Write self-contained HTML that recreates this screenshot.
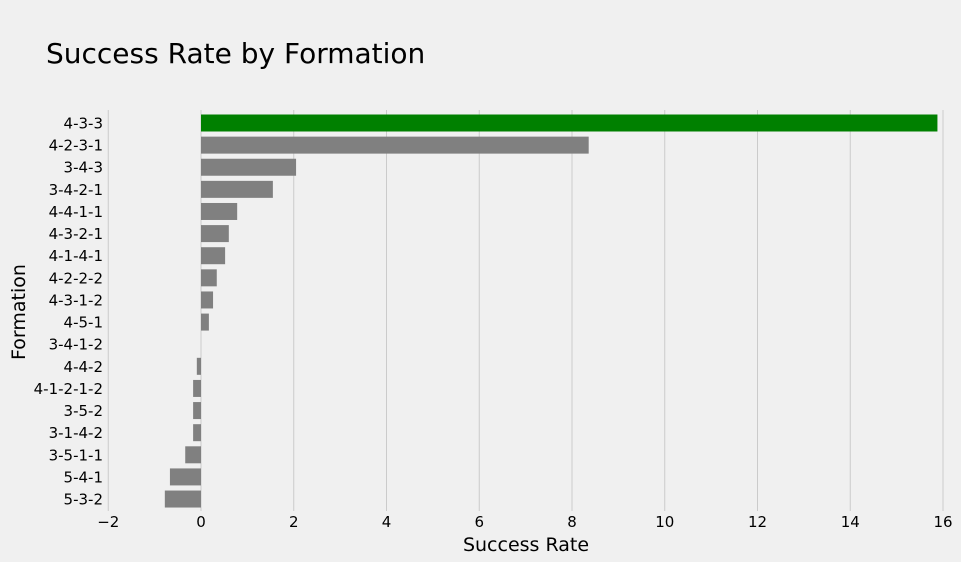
<!DOCTYPE html>
<html><head><meta charset="utf-8"><style>
body{margin:0;background:#f0f0f0;}
svg{display:block;font-family:"DejaVu Sans","Liberation Sans",sans-serif;}
</style></head><body>
<svg id="chart" width="961" height="562">
<rect width="961" height="562" fill="#f0f0f0"/>
<text x="46" y="63" font-size="28" fill="#000">Success Rate by Formation</text>
<g id="grid"></g><g id="bars"></g><g id="yticks"></g><g id="xticks"></g>
<text x="526" y="551" font-size="19" text-anchor="middle">Success Rate</text>
<text transform="translate(25,312) rotate(-90)" font-size="19" text-anchor="middle">Formation</text>
</svg>
<script>
const categories=["4-3-3","4-2-3-1","3-4-3","3-4-2-1","4-4-1-1","4-3-2-1","4-1-4-1","4-2-2-2","4-3-1-2","4-5-1","3-4-1-2","4-4-2","4-1-2-1-2","3-5-2","3-1-4-2","3-5-1-1","5-4-1","5-3-2"];
const values=[15.88,8.36,2.05,1.55,0.78,0.6,0.52,0.34,0.26,0.17,0,-0.09,-0.17,-0.17,-0.17,-0.34,-0.67,-0.78];
const xTicks=[-2,0,2,4,6,8,10,12,14,16];
const NS="http://www.w3.org/2000/svg";
const x=v=>201+(v)*46.375;
const y=i=>123+i*22.12;
const bh=17;
function el(t,a,p){const e=document.createElementNS(NS,t);for(const k in a)e.setAttribute(k,a[k]);document.getElementById(p).appendChild(e);return e;}
xTicks.forEach(t=>{
  const l=el("line",{x1:x(t),x2:x(t),y1:110,y2:511,stroke:"#cbcbcb","stroke-width":1},"grid");
  
  
  const tx=el("text",{x:x(t),y:527,"font-size":15,"text-anchor":"middle"},"xticks");
  tx.textContent=t<0?"\u2212"+(-t):String(t);
  
  
});
categories.forEach((c,i)=>{
  const v=values[i];
  const r=el("rect",{x:Math.min(x(0),x(v)),y:y(i)-bh/2,width:Math.abs(x(v)-x(0)),height:bh,fill:i===0?"#008000":"#808080"},"bars");
  
  
  const t=el("text",{x:103,y:y(i)+5.5,"font-size":15,"text-anchor":"end"},"yticks");
  t.textContent=c;
  
  
});
</script>
</body></html>
